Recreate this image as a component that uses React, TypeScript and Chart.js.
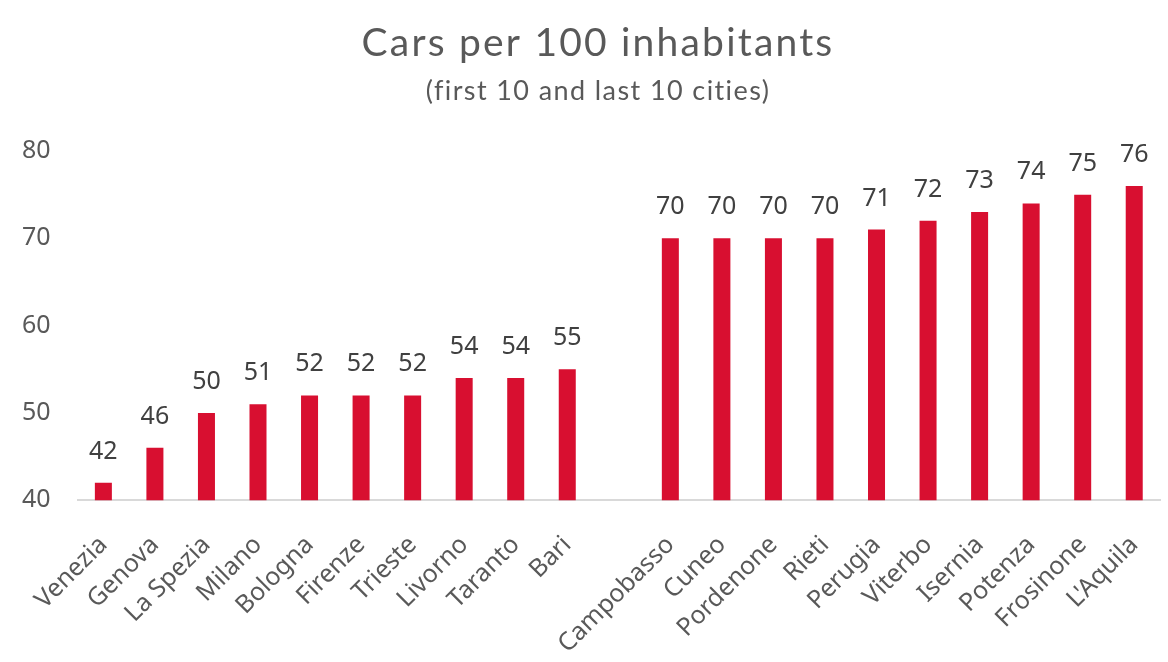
import React, { useEffect, useRef } from "react";
import { Chart, registerables } from "chart.js";

Chart.register(...registerables);

const cities: string[] = [
  "Venezia", "Genova", "La Spezia", "Milano", "Bologna", "Firenze", "Trieste", "Livorno", "Taranto", "Bari",
  "",
  "Campobasso", "Cuneo", "Pordenone", "Rieti", "Perugia", "Viterbo", "Isernia", "Potenza", "Frosinone", "L'Aquila",
];
const carsPer100: (number | null)[] = [
  42, 46, 50, 51, 52, 52, 52, 54, 54, 55,
  null,
  70, 70, 70, 70, 71, 72, 73, 74, 75, 76,
];
const yTicks: number[] = [40, 50, 60, 70, 80];
const titleText = "Cars per 100 inhabitants";
const subtitleText = "(first 10 and last 10 cities)";

const FONT = "'Noto Sans', 'Open Sans', sans-serif";

const labelPlugin = {
  id: "barValueLabels",
  afterDatasetsDraw(chart: any) {
    const ctx = chart.ctx;
    const meta = chart.getDatasetMeta(0);
    const data = chart.data.datasets[0].data;
    ctx.save();
    ctx.font = "25px " + FONT;
    ctx.fillStyle = "#404040";
    ctx.textAlign = "center";
    ctx.textBaseline = "alphabetic";
    meta.data.forEach((bar: any, i: number) => {
      const v = data[i];
      if (v === null || v === undefined) return;
      ctx.fillText(String(v), bar.x, bar.y - 24);
    });
    ctx.restore();
  },
};

const titlePlugin = {
  id: "customTitle",
  afterDraw(chart: any) {
    const ctx = chart.ctx;
    const cx = 598;
    ctx.save();
    ctx.fillStyle = "#595959";
    ctx.textAlign = "center";
    ctx.textBaseline = "alphabetic";
    ctx.font = "39px Lato, sans-serif";
    (ctx as any).letterSpacing = "2.2px";
    ctx.fillText(titleText, cx, 56);
    ctx.font = "27px Lato, sans-serif";
    (ctx as any).letterSpacing = "1.4px";
    ctx.fillText(subtitleText, cx, 100);
    ctx.restore();
  },
};

export default function App() {
  const ref = useRef<HTMLCanvasElement | null>(null);
  useEffect(() => {
    if (!ref.current) return;
    const chart = new Chart(ref.current, {
      type: "bar",
      data: {
        labels: cities,
        datasets: [
          {
            data: carsPer100,
            backgroundColor: "#D80F30",
            categoryPercentage: 1,
            barPercentage: 0.33,
          },
        ],
      },
      options: {
        animation: false,
        responsive: true,
        maintainAspectRatio: false,
        layout: { padding: { left: -5, right: 8, top: 151, bottom: -27 } },
        plugins: {
          legend: { display: false },
          tooltip: { enabled: false },
          title: { display: false },
        },
        scales: {
          x: {
            grid: { display: false, drawTicks: false },
            border: { display: true, color: "#D9D9D9", width: 2 },
            afterFit: (axis: any) => {
              axis.paddingRight = 0;
            },
            ticks: {
              color: "#595959",
              font: { family: FONT, size: 25 },
              maxRotation: 45,
              minRotation: 45,
              autoSkip: false,
              padding: 30,
            },
          },
          y: {
            min: 40,
            max: 80,
            afterBuildTicks: (axis: any) => {
              axis.ticks = yTicks.map((v) => ({ value: v }));
            },
            grid: { display: false, drawTicks: false },
            border: { display: false },
            ticks: {
              color: "#595959",
              font: { family: FONT, size: 25 },
              padding: 27,
            },
          },
        },
      },
      plugins: [labelPlugin, titlePlugin],
    });
    return () => chart.destroy();
  }, []);
  return (
    <div style={{ position: "absolute", left: 0, top: 0, width: 1168, height: 662, background: "#fff" }}>
      <canvas ref={ref} />
    </div>
  );
}
